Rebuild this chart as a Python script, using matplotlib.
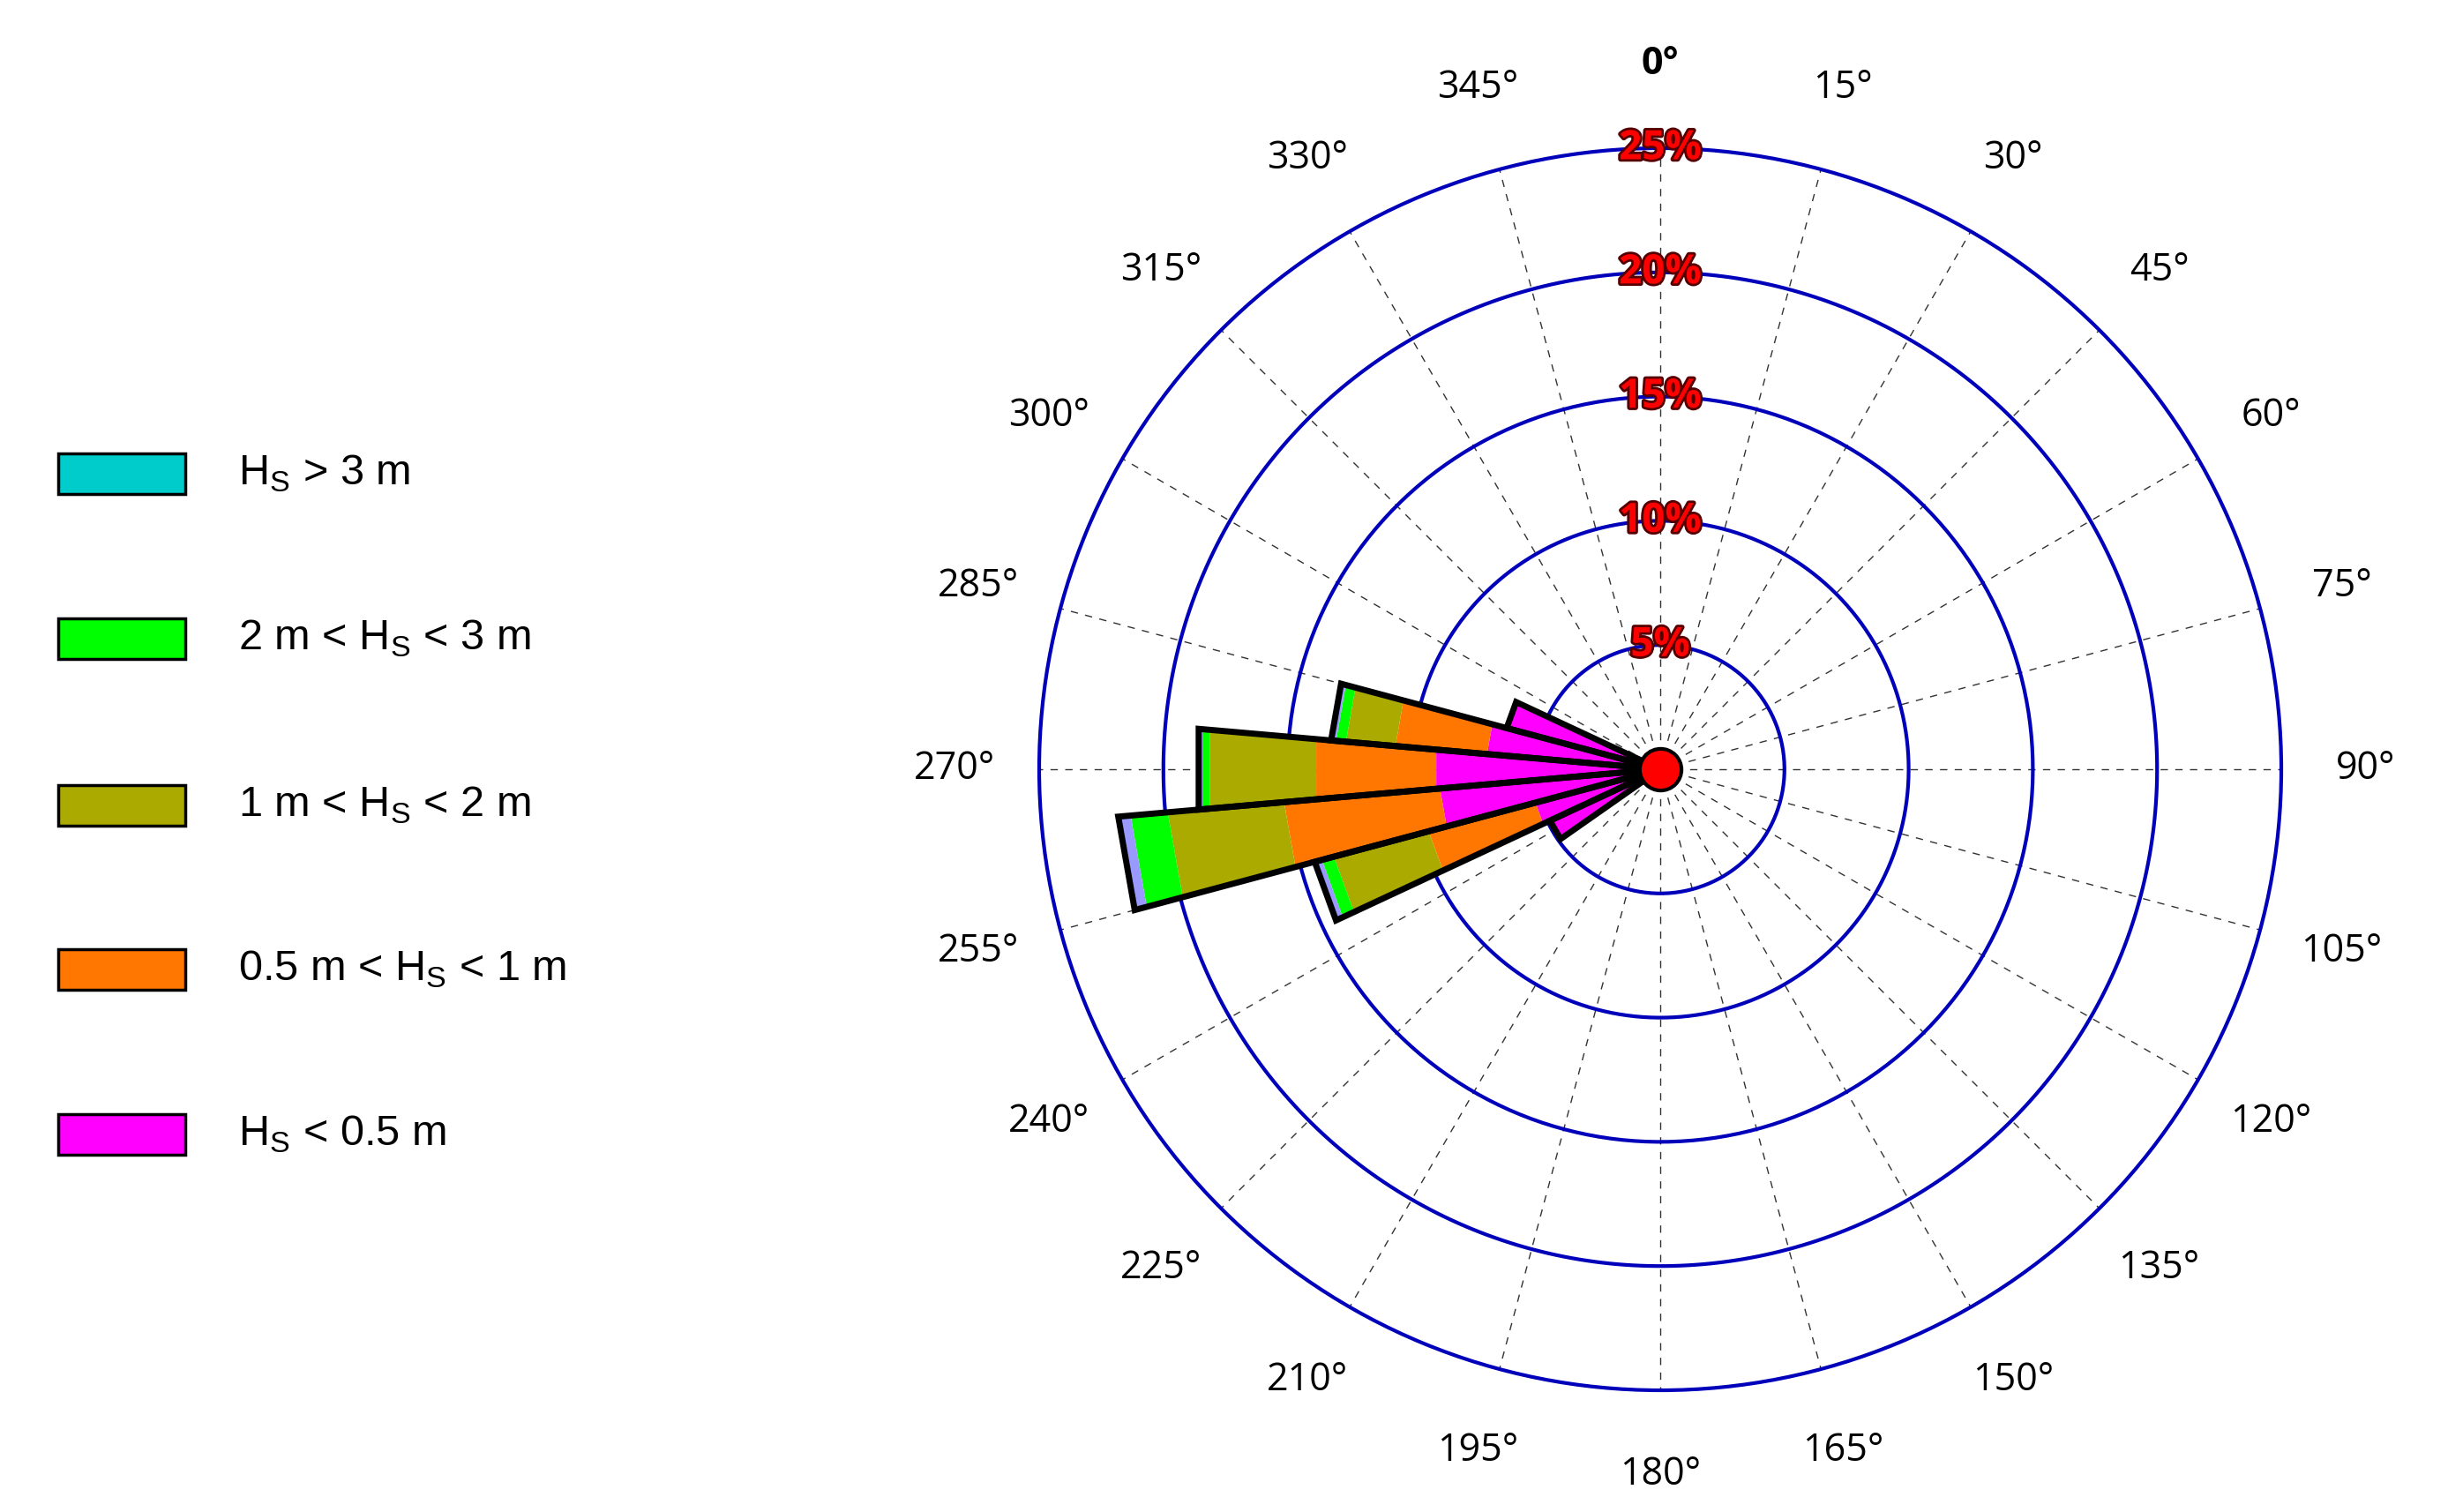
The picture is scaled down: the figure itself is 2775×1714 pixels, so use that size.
import numpy as np
import matplotlib
matplotlib.use("Agg")
import matplotlib.pyplot as plt
import matplotlib.patheffects as pe
from matplotlib.patches import Rectangle

# direction bins (deg) and percentages per class
directions = [240, 250, 260, 270, 280, 290]
bin_width = 10
hs_lt05 = [4.9, 5.2, 8.9, 9.05, 7.0, 6.4]
hs_05_1 = [0.0, 4.45, 6.3, 4.85, 3.7, 0.0]
hs_1_2 = [0.0, 3.95, 4.7, 4.3, 2.0, 0.0]
hs_2_3 = [0.0, 0.5, 1.5, 0.3, 0.4, 0.0]
hs_gt3 = [0.0, 0.3, 0.5, 0.15, 0.2, 0.0]

classes = [hs_lt05, hs_05_1, hs_1_2, hs_2_3, hs_gt3]
bar_colors = ["#ff00ff", "#ff7700", "#aaaa00", "#00ff00", "#9999ff"]
legend_colors = ["#00cccc", "#00ff00", "#aaaa00", "#ff7700", "#ff00ff"]
legend_labels = ["H$_\\mathregular{S}$ > 3 m", "2 m < H$_\\mathregular{S}$ < 3 m",
                 "1 m < H$_\\mathregular{S}$ < 2 m", "0.5 m < H$_\\mathregular{S}$ < 1 m",
                 "H$_\\mathregular{S}$ < 0.5 m"]
rings = [5, 10, 15, 20, 25]
angle_ticks = np.arange(0, 360, 15)

plt.rcParams['font.family'] = ['Open Sans', 'DejaVu Sans']

fig = plt.figure(figsize=(27.75, 17.14), dpi=100)
ax = fig.add_axes([0.4245, 0.0805, 0.5074, 0.8215], projection="polar")
ax.set_theta_zero_location("N")
ax.set_theta_direction(-1)
ax.set_ylim(0, 25)

ax.set_xticks(np.radians(angle_ticks))
ax.set_xticklabels([])
ax.set_yticks([])
ax.xaxis.grid(True, color="#333333", linestyle=(0, (6, 6)), linewidth=1.0)
ax.yaxis.grid(False)
ax.spines["polar"].set_color("#0000bb")
ax.spines["polar"].set_linewidth(3)
theta_full = np.linspace(0, 2 * np.pi, 400)
for r in rings[:-1]:
    ax.plot(theta_full, np.full_like(theta_full, r), color="#0000bb", lw=3, zorder=2)

# stacked wedges (straight outer edges)
for i, d in enumerate(directions):
    t0 = np.radians(d - bin_width / 2)
    t1 = np.radians(d + bin_width / 2)
    base = 0.0
    for vals, col in zip(classes, bar_colors):
        v = vals[i]
        if v <= 0:
            continue
        top = base + v
        ax.fill([t0, t0, t1, t1], [base, top, top, base], color=col, lw=0, zorder=3)
        base = top
    ax.fill([0, t0, t1, 0], [0, base, base, 0], facecolor="none", edgecolor="black",
            lw=5, zorder=4, joinstyle="miter")

ax.plot([0], [0], "o", ms=34, mfc="red", mec="black", mew=3, zorder=6)

for a in angle_ticks:
    ax.text(np.radians(a), 28.4, f"{a}°", ha="center", va="center", fontsize=31,
            fontweight="bold" if a == 0 else "normal", clip_on=False)

for r in rings:
    ax.text(0, r, f"{r}%", ha="center", va="center", fontsize=33, fontweight="bold",
            color="red", zorder=7,
            path_effects=[pe.withStroke(linewidth=4, foreground="#550000")])

# legend
ys = [537, 724, 913, 1099, 1286]
for y, col, lab in zip(ys, legend_colors, legend_labels):
    yf = 1 - y / 1714
    fig.patches.append(Rectangle((66 / 2775, yf - 23 / 1714), 144 / 2775, 46 / 1714,
                                 transform=fig.transFigure, facecolor=col,
                                 edgecolor="black", lw=2.5))
    fig.text(270 / 2775, yf, lab, fontsize=35, va="center", ha="left",
             family=["Liberation Sans", "DejaVu Sans"])

fig.savefig("out.png", dpi=100)
